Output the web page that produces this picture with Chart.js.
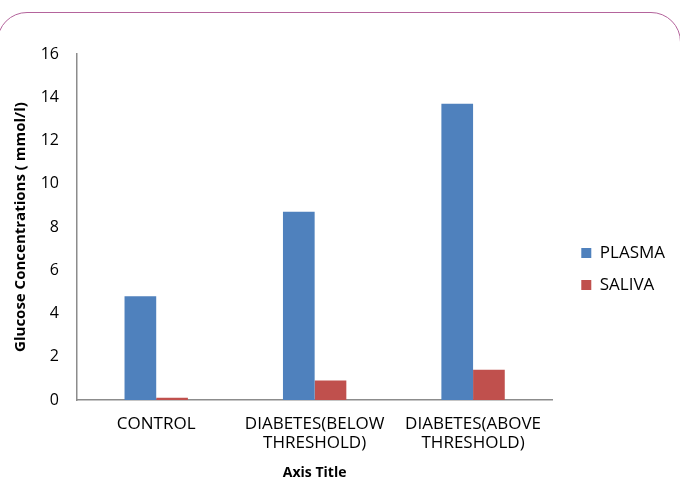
<!DOCTYPE html>
<html>
<head>
<meta charset="utf-8">
<script src="https://cdn.jsdelivr.net/npm/chart.js@4"></script>
<style>
  html, body { margin: 0; padding: 0; background: #fff; overflow: hidden; }
  #wrap { position: relative; width: 680px; height: 480px; }
  #frame {
    position: absolute; left: -3px; top: 12px; width: 684px; height: 520px;
    border: 1.5px solid #b4649c; border-radius: 30px; box-sizing: border-box;
  }
  canvas { position: absolute; left: 0; top: 0; }
</style>
</head>
<body>
<div id="wrap">
  <div id="frame"></div>
  <canvas id="chart" width="680" height="480"></canvas>
</div>
<script>
// values
const categories = ["CONTROL", ["DIABETES(BELOW", "THRESHOLD)"], ["DIABETES(ABOVE", "THRESHOLD)"]]
const plasma = [4.8, 8.7, 13.7]
const saliva = [0.1, 0.9, 1.4]
const yTicks = [0, 2, 4, 6, 8, 10, 12, 14, 16]

const font = "'Open Sans', 'Liberation Sans', sans-serif"
Chart.defaults.font.family = font
Chart.defaults.color = "#000"

// nudge the legend a bit into the free space on the right
const legendNudge = {
    id: "legendNudge",
    afterLayout: function (chart) {
        let lg = chart.legend
        lg.left += 14
        lg.right += 14
        lg.top += 2
        lg.bottom += 2
    }
}

new Chart(document.getElementById("chart"), {
    type: "bar",
    data: {
        labels: categories,
        datasets: [{
            label: "PLASMA",
            data: plasma,
            backgroundColor: "#4f81bd",
            categoryPercentage: 0.4,
            barPercentage: 1.0
        }, {
            label: "SALIVA",
            data: saliva,
            backgroundColor: "#c0504d",
            categoryPercentage: 0.4,
            barPercentage: 1.0
        }]
    },
    options: {
        responsive: false,
        animation: false,
        layout: { padding: { left: 0, right: 19, top: 54, bottom: 0 } },
        plugins: {
            tooltip: { enabled: false },
            legend: {
                position: "right",
                labels: {
                    boxWidth: 10, boxHeight: 10, padding: 15,
                    font: { size: 17 }
                }
            }
        },
        scales: {
            x: {
                grid: { display: false, drawTicks: false },
                border: { color: "#8c8c8c", width: 1.5 },
                ticks: { font: { size: 17, lineHeight: 1.1 }, padding: 15, maxRotation: 0 },
                title: { display: true, text: "Axis Title", font: { size: 14, weight: "bold", lineHeight: 1.0 }, padding: { top: 0, bottom: 0 } },
                afterFit: function (s) { s.height = 80 }
            },
            y: {
                min: 0, max: 16,
                afterBuildTicks: function (s) { s.ticks = yTicks.map(v => ({ value: v })) },
                grid: { display: false, drawOnChartArea: false, drawTicks: true, tickLength: 5, tickColor: "#8c8c8c" },
                border: { color: "#8c8c8c", width: 1.5 },
                ticks: { font: { size: 16 }, padding: 13 },
                title: { display: true, text: "Glucose Concentrations ( mmol/l)", font: { size: 15, weight: "bold" }, padding: { top: 12, bottom: 0 } },
                afterFit: function (s) { s.width = 77 }
            }
        }
    },
    plugins: [legendNudge]
})
</script>
</body>
</html>
